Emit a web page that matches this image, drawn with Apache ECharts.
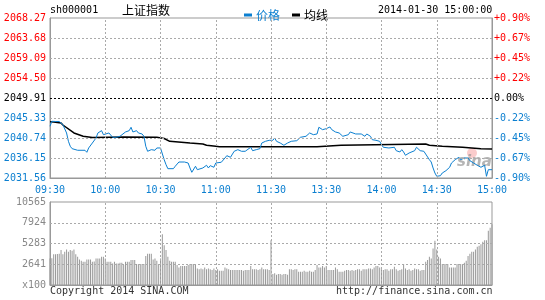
<!DOCTYPE html>
<html><head><meta charset="utf-8">
<script src="https://cdn.jsdelivr.net/npm/echarts/dist/echarts.min.js"></script>
<style>html,body{margin:0;padding:0;background:#fff}#c{width:545px;height:300px}</style>
</head><body><div id="c"></div>
<script>
const timeLabels = ['09:30','10:00','10:30','11:00','11:30','13:30','14:00','14:30','15:00'];
const priceLabels = ['2031.56','2036.15','2040.74','2045.33','2049.91','2054.50','2059.09','2063.68','2068.27'];
const pctLabels = ['-0.90%','-0.67%','-0.45%','-0.22%','0.00%','+0.22%','+0.45%','+0.67%','+0.90%'];
const volumeLabels = ['x100','2641','5283','7924','10565'];
const prevClose = 2049.91;
const priceMin = 2031.56, priceMax = 2068.27, priceStep = 4.58875;
const volumeMax = 10565, volumeStep = 2641.25;

const priceMinute = [0,1,2,3,4,5,6,7,9,10,11,12,15,19,20,21,23,25,26,28,29,30,32,34,36,38,39,41,43,44,45,47,48,50,51,52,53,55,57,58,60,61,62,63,64,67,68,70,73,75,76,77,79,80,81,83,85,86,87,89,90,91,93,95,96,98,100,102,104,106,107,109,110,112,114,115,117,119,121,122,123,125,127,129,131,134,136,139,140,141,143,145,146,148,149,150,152,153,155,157,159,160,162,163,164,166,169,171,172,174,175,177,179,180,181,182,184,185,187,188,190,191,192,193,195,196,198,199,201,203,204,206,207,208,209,210,212,213,215,217,218,220,222,223,225,227,228,230,232,234,235,236,237,238,240];
const priceValue = [2043.43,2044.57,2044.18,2044.53,2044.30,2044.53,2044.41,2043.79,2041.89,2039.98,2038.84,2038.29,2037.92,2037.92,2037.46,2038.45,2039.59,2040.74,2041.89,2042.42,2041.50,2041.13,2041.89,2040.90,2040.90,2041.13,2041.13,2042.12,2042.42,2043.20,2042.12,2042.42,2041.89,2041.66,2041.13,2038.84,2037.69,2038.06,2037.92,2038.45,2038.45,2038.29,2035.76,2034.62,2033.70,2033.70,2034.25,2035.23,2035.23,2035.00,2033.86,2032.87,2034.25,2033.47,2033.47,2033.86,2034.48,2033.86,2034.39,2034.02,2035.00,2034.62,2035.17,2036.15,2036.68,2036.31,2037.69,2038.06,2037.69,2037.69,2037.69,2038.61,2037.83,2038.06,2038.29,2039.59,2039.98,2040.21,2040.21,2040.74,2039.98,2039.59,2039.07,2039.59,2039.98,2040.12,2040.90,2041.13,2041.13,2041.89,2041.50,2041.66,2043.20,2042.65,2042.42,2042.88,2043.27,2042.65,2042.12,2041.89,2041.13,2040.90,2041.50,2042.12,2041.89,2041.66,2041.66,2041.13,2041.66,2041.13,2040.35,2040.21,2039.98,2039.20,2038.61,2038.98,2038.45,2038.06,2038.61,2037.83,2037.53,2038.06,2037.53,2036.77,2037.30,2037.69,2037.83,2038.61,2037.83,2037.69,2037.30,2035.76,2035.23,2033.86,2032.71,2031.95,2032.09,2032.71,2033.24,2034.02,2035.00,2035.76,2036.31,2035.76,2036.15,2036.15,2035.53,2035.00,2034.48,2034.02,2033.86,2034.48,2031.95,2033.47,2033.47];

const avgMinute = [0,2,6,7,13,18,23,40,58,62,63,65,76,83,85,90,92,145,146,158,159,204,206,213,224,234,240];
const avgValue = [2044.48,2044.41,2044.18,2043.72,2041.89,2041.13,2040.86,2040.97,2040.90,2040.63,2040.35,2039.98,2039.59,2039.36,2039.07,2038.84,2038.75,2038.75,2039.07,2039.07,2039.36,2039.36,2039.07,2038.84,2038.61,2038.29,2038.22];

const volumeValue = [3380,3400,3930,3900,3950,3970,4440,3930,4230,4520,4230,4440,4370,4520,3930,3590,3250,3080,2960,2960,
3250,3250,3250,2960,3000,3380,3380,3380,3590,3590,3380,2960,2960,2960,2750,2960,2750,2750,2830,2830,
2540,2960,2960,2960,3170,3170,3170,2660,2660,2660,2660,2660,3680,3970,3970,3970,3250,3380,3080,2660,
3380,6470,5070,4440,3590,3080,2960,2960,2960,2540,2240,2410,2410,2410,2410,2540,2660,2660,2660,2660,
2110,2000,2110,2000,2240,2000,2110,2000,1900,2110,1900,1990,1820,1820,1820,2240,2110,2000,1900,1900,
1900,1900,1900,1900,1900,1820,1900,1900,1900,2410,1990,1990,1990,1900,1990,2240,1990,1990,1990,1900,
5700,1390,1480,1300,1390,1390,1300,1390,1390,1300,1990,1990,1900,1990,1990,1690,1690,1690,1800,1690,
1690,1800,1690,1690,1900,2540,2240,2240,2410,2240,2410,1900,1900,1900,1900,2240,2000,1690,1690,1690,
1800,1900,1900,1820,1900,1820,1900,1990,1990,1820,1990,2000,1990,2110,2110,1990,2240,2410,2410,2240,
1990,1900,1990,1990,1820,1990,1990,2320,1990,1820,1900,1990,2660,2110,1900,1990,1820,1900,2110,1990,
1990,1820,1900,1900,2960,3170,3590,3380,4650,5620,4520,3590,3380,2660,2660,2660,2660,2240,2240,2240,
2240,2660,2660,2660,2660,2830,3080,3680,3970,4230,4230,4520,4860,5000,5200,5490,5700,5700,6890,7300,
7730];

const BLUE = '#0b7fd0', RED = '#ff0000', MONO = 'DejaVu Sans Mono', CJK = 'Noto Sans CJK SC';
const idx = (v, min, step) => Math.round((v - min) / step);
const cls = i => i < 4 ? 'dn' : (i === 4 ? 'mid' : 'up');
const mkRich = () => ({
  up: {color: RED, fontFamily: MONO, fontSize: 10},
  dn: {color: BLUE, fontFamily: MONO, fontSize: 10},
  mid: {color: '#000', fontFamily: MONO, fontSize: 10}
});
const axLine = () => ({show: true, lineStyle: {color: '#999', width: 1}});
const dotStyle = {color: '#aaa', type: [2, 2], width: 1};

// grid lines at the axis ticks (interior ticks only)
const timeTicks = timeLabels.map((_, i) => i * 30).slice(1, -1);
const priceTicks = priceLabels.map((_, i) => priceMin + i * priceStep).slice(1, -1).filter((_, i) => i !== 3);
const volTicks = volumeLabels.map((_, i) => i * volumeStep).slice(1, -1);

const chart = echarts.init(document.getElementById('c'));
chart.setOption({
  animation: false,
  grid: [
    {left: 50, top: 18, width: 442, height: 160, show: true, borderColor: '#999', borderWidth: 1},
    {left: 50, top: 202, width: 442, height: 83, show: true, borderColor: '#999', borderWidth: 1}
  ],
  legend: {
    left: 239, top: 4, icon: 'rect', itemWidth: 8, itemHeight: 3, itemGap: 12,
    textStyle: {fontFamily: CJK, fontSize: 12, padding: [0, 0, 0, -1]},
    data: [{name: '价格', textStyle: {color: BLUE}}, {name: '均线', textStyle: {color: '#000'}}]
  },
  xAxis: [
    {gridIndex: 0, type: 'value', min: 0, max: 240, interval: 30,
     axisLine: axLine(), axisTick: {show: false}, splitLine: {show: false},
     axisLabel: {margin: 7, color: BLUE, fontFamily: MONO, fontSize: 10,
       formatter: v => timeLabels[Math.round(v / 30)]}},
    {gridIndex: 1, type: 'value', min: 0, max: 240, interval: 30,
     axisLine: axLine(), axisTick: {show: false}, splitLine: {show: false},
     axisLabel: {show: false}}
  ],
  yAxis: [
    {gridIndex: 0, type: 'value', min: priceMin, max: priceMax, interval: priceStep,
     axisLine: axLine(), axisTick: {show: false}, splitLine: {show: false},
     axisLabel: {margin: 4, rich: mkRich(), formatter: v => {
       const i = idx(v, priceMin, priceStep); return '{' + cls(i) + '|' + priceLabels[i] + '}';
     }}},
    {gridIndex: 0, type: 'value', position: 'right', min: priceMin, max: priceMax, interval: priceStep,
     axisLine: axLine(), axisTick: {show: false}, splitLine: {show: false},
     axisLabel: {margin: 2, rich: mkRich(), formatter: v => {
       const i = idx(v, priceMin, priceStep); return '{' + cls(i) + '|' + pctLabels[i] + '}';
     }}},
    {gridIndex: 1, type: 'value', min: 0, max: volumeMax, interval: volumeStep,
     axisLine: axLine(), axisTick: {show: false}, splitLine: {show: false},
     axisLabel: {margin: 4, color: '#888', fontFamily: MONO, fontSize: 10,
       formatter: v => volumeLabels[idx(v, 0, volumeStep)]}}
  ],
  series: [
    {name: 'gridA', type: 'line', xAxisIndex: 0, yAxisIndex: 0, z: 1, symbol: 'none', silent: true,
     lineStyle: {opacity: 0}, data: [[0, priceMin]],
     markLine: {silent: true, symbol: ['none', 'none'], label: {show: false}, lineStyle: dotStyle,
       data: priceTicks.map(v => ({yAxis: v})).concat(timeTicks.map(v => ({xAxis: v})))}},
    {name: '成交量', type: 'bar', xAxisIndex: 1, yAxisIndex: 2, barWidth: 1, z: 2,
     itemStyle: {color: '#999'}, data: volumeValue.map((v, i) => [i, v]),
     markLine: {silent: true, symbol: ['none', 'none'], label: {show: false}, lineStyle: dotStyle,
       data: volTicks.map(v => ({yAxis: v})).concat(timeTicks.map(v => ({xAxis: v})))}},
    {name: '均线', type: 'line', xAxisIndex: 0, yAxisIndex: 0, symbol: 'none', z: 3,
     lineStyle: {color: '#000', width: 1.5}, itemStyle: {color: '#000'},
     data: avgMinute.map((m, i) => [m, avgValue[i]])},
    {name: '价格', type: 'line', xAxisIndex: 0, yAxisIndex: 0, symbol: 'none', z: 4,
     lineStyle: {color: BLUE, width: 1}, itemStyle: {color: BLUE},
     data: priceMinute.map((m, i) => [m, priceValue[i]]),
     markLine: {silent: true, symbol: ['none', 'none'], label: {show: false},
       lineStyle: {color: '#000', type: [2, 2], width: 1}, data: [{yAxis: prevClose}]}}
  ],
  graphic: [
    {type: 'text', left: 50, top: 5, style: {text: 'sh000001', font: '10px "' + MONO + '"', fill: '#000'}},
    {type: 'text', left: 122, top: 4, style: {text: '上证指数', font: '12px "' + CJK + '"', fill: '#000'}},
    {type: 'text', left: 378, top: 5, style: {text: '2014-01-30 15:00:00', font: '10px "' + MONO + '"', fill: '#000'}},
    {type: 'text', left: 50, top: 286, style: {text: 'Copyright 2014 SINA.COM', font: '10px "' + MONO + '"', fill: '#333'}},
    {type: 'text', left: 336, top: 286, style: {text: 'http://finance.sina.com.cn', font: '10px "' + MONO + '"', fill: '#333'}},
    {type: 'circle', z: 1, shape: {cx: 472, cy: 153, r: 5}, style: {fill: 'rgba(240,110,110,0.35)'}},
    {type: 'text', z: 1, left: 457, top: 155, style: {text: 'sina', font: 'italic bold 15px "DejaVu Sans"', fill: 'rgba(150,150,150,0.7)'}}
  ]
});
</script></body></html>
